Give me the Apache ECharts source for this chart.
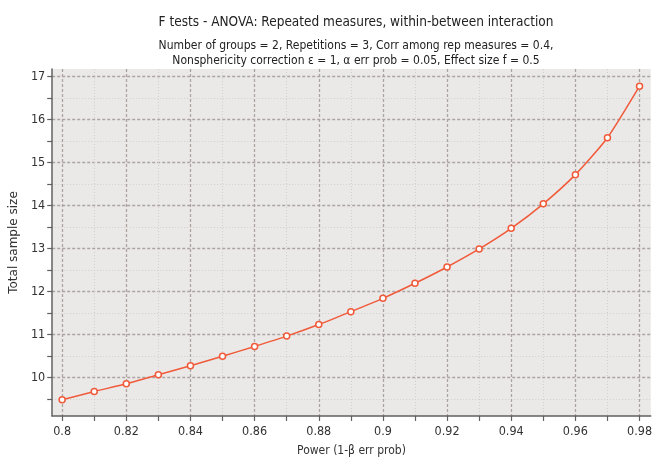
<!DOCTYPE html>
<html><head><meta charset="utf-8">
<script src="https://cdn.jsdelivr.net/npm/echarts@6/dist/echarts.min.js"></script>
<style>html,body{margin:0;padding:0;background:#fff}#c{width:655px;height:462px}</style>
</head><body><div id="c"></div>
<script>
const power = [0.80,0.81,0.82,0.83,0.84,0.85,0.86,0.87,0.88,0.89,0.90,0.91,0.92,0.93,0.94,0.95,0.96,0.97,0.98];
const sampleSize = [9.48,9.67,9.85,10.06,10.27,10.49,10.72,10.96,11.23,11.53,11.84,12.19,12.57,12.99,13.47,14.04,14.72,15.58,16.78];
const xMajor = [0.80,0.82,0.84,0.86,0.88,0.90,0.92,0.94,0.96,0.98];
const xMinor = [0.81,0.83,0.85,0.87,0.89,0.91,0.93,0.95,0.97];
const yMajor = [10,11,12,13,14,15,16,17];
const yMinor = [9.5,10.5,11.5,12.5,13.5,14.5,15.5,16.5];
const titleText = 'F tests - ANOVA: Repeated measures, within-between interaction';
const subText = 'Number of groups = 2, Repetitions = 3, Corr among rep measures = 0.4,\nNonsphericity correction \u03b5 = 1, \u03b1 err prob = 0.05, Effect size f = 0.5';

const NF = "'Liberation Sans Narrow','DejaVu Sans Condensed','Roboto Condensed',sans-serif";
const XMIN = 0.7969, XMAX = 0.9835, YMIN = 9.10, YMAX = 17.18;
const majorLine = {show:true, lineStyle:{color:'#aca4a2', type:[3,2], width:1.3}};
const minorLine = {show:true, lineStyle:{color:'#d3cdcb', type:[1,2], width:1}};
const axisLineStyle = {show:true, lineStyle:{color:'#606060', width:1.5}};
const fmt = v => String(+(+v).toFixed(2));

const chart = echarts.init(document.getElementById('c'), null, {renderer:'canvas'});
chart.setOption({
  animation:false,
  backgroundColor:'#ffffff',
  title:[
    {text:titleText, left:351, top:10, textAlign:'center',
     textStyle:{fontFamily:NF, fontSize:13.5, fontWeight:'normal', color:'#222'}},
    {text:subText, left:351, top:33, textAlign:'center',
     textStyle:{fontFamily:NF, fontSize:12, fontWeight:'normal', color:'#222', lineHeight:15}}
  ],
  grid:{left:50, right:3, top:69, bottom:43, show:true, backgroundColor:'#ebe9e7', borderWidth:0},
  xAxis:[
    {type:'value', min:XMIN, max:XMAX, position:'bottom',
     name:'Power (1-\u03b2 err prob)', nameLocation:'middle', nameGap:29,
     nameTextStyle:{fontFamily:NF, fontSize:12, color:'#333'},
     axisLine:axisLineStyle,
     axisTick:{show:true, length:5, customValues:xMajor, lineStyle:{color:'#606060', width:1.2}},
     axisLabel:{customValues:xMajor, formatter:fmt, fontFamily:NF, fontSize:12.5, color:'#333', margin:9},
     splitLine:majorLine},
    {type:'value', min:XMIN, max:XMAX, position:'bottom',
     axisLine:{show:false},
     axisTick:{show:true, length:5, customValues:xMinor, lineStyle:{color:'#606060', width:1.2}},
     axisLabel:{show:false},
     splitLine:minorLine}
  ],
  yAxis:[
    {type:'value', min:YMIN, max:YMAX, position:'left',
     name:'Total sample size', nameLocation:'middle', nameGap:20, nameRotate:90,
     nameTextStyle:{fontFamily:"'DejaVu Sans',sans-serif", fontSize:12, color:'#333'},
     axisLine:axisLineStyle,
     axisTick:{show:true, length:5, customValues:yMajor, lineStyle:{color:'#606060', width:1.2}},
     axisLabel:{customValues:yMajor, fontFamily:NF, fontSize:12.5, color:'#333', margin:7},
     splitLine:majorLine},
    {type:'value', min:YMIN, max:YMAX, position:'left',
     axisLine:{show:false},
     axisTick:{show:true, length:5, customValues:yMinor, lineStyle:{color:'#606060', width:1.2}},
     axisLabel:{show:false},
     splitLine:minorLine}
  ],
  series:[{
    type:'line', xAxisIndex:0, yAxisIndex:0,
    data: power.map((p,i)=>[p, sampleSize[i]]),
    symbol:'circle', symbolSize:6, smooth:0.2,
    lineStyle:{color:'#f05a3a', width:1.5},
    itemStyle:{color:'#ffffff', borderColor:'#f05a3a', borderWidth:1.5},
    z:5
  }]
});
</script></body></html>
